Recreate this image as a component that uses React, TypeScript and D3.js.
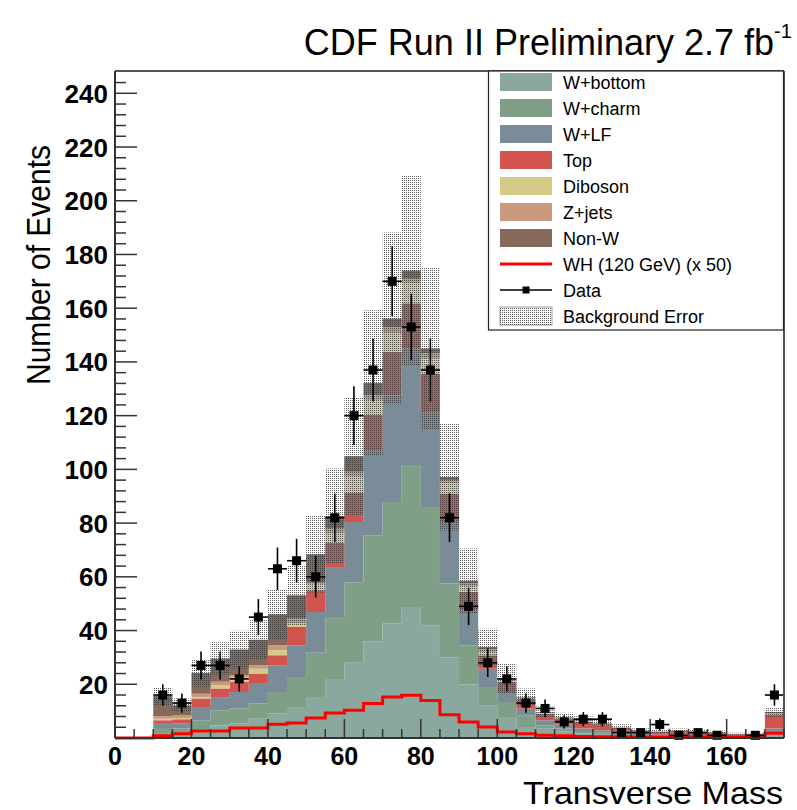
import React from 'react';
import * as d3 from 'd3';

// bin low edges (bin width 5)
const binLow = [10, 15, 20, 25, 30, 35, 40, 45, 50, 55, 60, 65, 70, 75, 80, 85, 90, 95, 100, 105, 110, 115, 120, 125, 130, 135, 140, 145, 150, 155, 160, 165, 170];
const binWidth = 5;

const wBottom = [1.9, 1.9, 2.9, 4.7, 5.4, 7.2, 9.1, 11.5, 15.3, 22.0, 28.0, 36.0, 42.6, 48.8, 42.0, 30.0, 20.0, 12.0, 7.8, 4.1, 3.4, 2.5, 1.8, 1.2, 0.9, 0.6, 0.5, 0.5, 0.4, 0.4, 0.3, 0.3, 1.3];
const wCharm = [1.8, 1.6, 3.7, 5.6, 5.6, 5.6, 8.0, 11.2, 16.4, 23.0, 30.0, 39.5, 45.3, 52.8, 44.0, 27.5, 14.5, 7.0, 5.6, 4.4, 1.3, 1.0, 0.8, 0.8, 0.6, 0.4, 0.3, 0.3, 0.3, 0.2, 0.2, 0.2, 0.9];
const wLF = [1.9, 2.0, 4.9, 4.7, 6.1, 7.7, 10.0, 11.8, 15.2, 18.7, 22.4, 31.6, 39.7, 43.4, 35.3, 22.9, 13.1, 6.8, 3.7, 2.4, 1.9, 1.5, 0.9, 0.9, 0.7, 0.5, 0.4, 0.5, 0.4, 0.3, 0.2, 0.2, 1.3];
const top = [1.0, 1.5, 3.2, 3.4, 3.8, 3.5, 3.7, 6.8, 8.1, 8.9, 10.8, 13.1, 16.2, 16.8, 14.4, 10.6, 6.8, 5.0, 3.9, 3.6, 2.4, 2.2, 2.5, 2.2, 1.5, 1.1, 1.0, 1.3, 1.1, 1.0, 0.7, 0.7, 5.1];
const diboson = [0.6, 0.4, 0.6, 1.2, 1.8, 1.8, 1.9, 1.3, 2.2, 3.5, 6.1, 5.6, 6.8, 7.4, 5.6, 3.7, 2.1, 1.2, 0.5, 0.3, 0.3, 0.2, 0.2, 0.2, 0.2, 0.1, 0.1, 0.1, 0.1, 0.1, 0.05, 0.05, 0.3];
const zjets = [0.9, 1.0, 1.2, 1.3, 0.6, 1.3, 1.8, 1.9, 0.9, 1.9, 1.8, 1.8, 2.4, 1.8, 1.9, 1.3, 1.0, 1.0, 0.3, 0.2, 0.2, 0.2, 0.2, 0.1, 0.1, 0.1, 0.1, 0.1, 0.1, 0.1, 0.05, 0.05, 0.3];
const nonW = [7.4, 3.8, 7.7, 8.7, 9.6, 9.5, 11.6, 8.6, 10.3, 4.6, 5.8, 4.6, 3.2, 3.0, 1.8, 1.2, 1.0, 0.9, 0.3, 0.3, 0.2, 0.2, 0.2, 0.2, 0.1, 0.1, 0.1, 0.1, 0.1, 0.1, 0.1, 0.1, 0.5];
const bkgErr = [3.5, 2.5, 5, 6, 7, 7.5, 9.2, 11.2, 14.2, 17.7, 22, 27, 32, 35.5, 30, 20, 12, 6.8, 5.6, 3.1, 2, 1.6, 1.5, 1.2, 1.0, 0.7, 0.6, 0.6, 0.6, 0.5, 0.4, 0.4, 1.8];
const dataCounts = [16, 13, 27, 27, 22, 45, 63, 66, 60, 82, 120, 137, 170, 153, 137, 82, 49, 28, 22, 13, 11, 6, 7, 7, 2, 2, 5, 1, 2, 1, 0, 1, 16];

// WH signal (x50) histogram, from 0
const whLow = [0, 5, 10, 15, 20, 25, 30, 35, 40, 45, 50, 55, 60, 65, 70, 75, 80, 85, 90, 95, 100, 105, 110, 115, 120, 125, 130, 135, 140, 145, 150, 155, 160, 165, 170];
const whValues = [0, 0, 0.8, 1.6, 2.6, 2.6, 3.7, 3.7, 5.1, 5.6, 7.4, 9.3, 10.3, 12.8, 15.3, 15.9, 14.0, 8.7, 6.0, 4.1, 2.2, 1.6, 1.0, 0.8, 0.6, 0.5, 0.5, 0.4, 0.4, 0.4, 0.4, 0.4, 0.4, 0.4, 1.8];

const xTicks = [0, 20, 40, 60, 80, 100, 120, 140, 160];
const yTicks = [20, 40, 60, 80, 100, 120, 140, 160, 180, 200, 220, 240];

const seriesNames = ['W+bottom', 'W+charm', 'W+LF', 'Top', 'Diboson', 'Z+jets', 'Non-W'];
const seriesValues = [wBottom, wCharm, wLF, top, diboson, zjets, nonW];
const seriesColors = ['#8ba89f', '#7f9f86', '#7a8c97', '#d3544f', '#d4cc86', '#c99a7b', '#87695b'];

const W = 797, H = 810;
const L = 115, R = 784, T = 71, B = 738;
const FONT = '"Liberation Sans", Arial, Helvetica, sans-serif';

export default function App() {
  const x = d3.scaleLinear().domain([0, 175]).range([L, R]);
  const y = d3.scaleLinear().domain([0, 248.3]).range([B, T]);

  const rows = binLow.map((lo, i) => {
    const r: any = { lo };
    seriesNames.forEach((n, k) => (r[n] = seriesValues[k][i]));
    return r;
  });
  const stacked = d3.stack<any>().keys(seriesNames)(rows);

  const area = d3
    .area<[number, number, number]>()
    .x((d) => x(d[0]))
    .y0((d) => y(d[1]))
    .y1((d) => y(d[2]))
    .curve(d3.curveStepAfter);

  const layerPoints = (layer: any): [number, number, number][] => {
    const pts: [number, number, number][] = layer.map((s: any, i: number) => [binLow[i], s[0], s[1]]);
    const last = pts[pts.length - 1];
    pts.push([last[0] + binWidth, last[1], last[2]]);
    return pts;
  };

  const totals = binLow.map((_, i) => seriesValues.reduce((a, s) => a + s[i], 0));
  const errPts: [number, number, number][] = binLow.map((lo, i) => [lo, Math.max(0, totals[i] - bkgErr[i]), totals[i] + bkgErr[i]]);
  errPts.push([binLow[binLow.length - 1] + binWidth, errPts[errPts.length - 1][1], errPts[errPts.length - 1][2]]);

  const whPts: [number, number][] = whLow.map((lo, i) => [lo, whValues[i]]);
  whPts.push([whLow[whLow.length - 1] + binWidth, whValues[whValues.length - 1]]);
  const whLine = d3
    .line<[number, number]>()
    .x((d) => x(d[0]))
    .y((d) => y(d[1]))
    .curve(d3.curveStepAfter);

  const yMinor = d3.range(0, 248, 4);
  const xMinor = d3.range(0, 176, 5);

  const legendRows = [
    ...seriesNames.map((n, k) => ({ name: n, kind: 'fill', color: seriesColors[k] })),
    { name: 'WH (120 GeV) (x 50)', kind: 'line', color: '#ff0000' },
    { name: 'Data', kind: 'data', color: '#000' },
    { name: 'Background Error', kind: 'err', color: '' },
  ];

  return (
    <svg width={W} height={H} style={{ position: 'absolute', left: 0, top: 0, background: '#fff' }} fontFamily={FONT}>
      <defs>
        <pattern id="dots" width="2" height="2" patternUnits="userSpaceOnUse">
          <rect x="0" y="0" width="1" height="1" fill="#333" opacity="0.8" />
        </pattern>
      </defs>
      <rect x={0} y={0} width={W} height={H} fill="#fff" />

      {/* stacked backgrounds */}
      {stacked.map((layer, k) => (
        <path key={k} d={area(layerPoints(layer)) || ''} fill={seriesColors[k]} stroke="none" />
      ))}

      {/* background error band */}
      <path d={area(errPts) || ''} fill="url(#dots)" stroke="none" />

      {/* WH signal */}
      <path d={whLine(whPts) || ''} fill="none" stroke="#ff0000" strokeWidth={3} />

      {/* data */}
      {binLow.map((lo, i) => {
        const n = dataCounts[i];
        if (n <= 0) return null;
        const cx = x(lo + binWidth / 2);
        const cy = y(n);
        const e = Math.sqrt(n);
        return (
          <g key={i}>
            <line x1={x(lo)} x2={x(lo + binWidth)} y1={cy} y2={cy} stroke="#000" strokeWidth={1.6} />
            <line x1={cx} x2={cx} y1={y(n + e)} y2={y(Math.max(0, n - e))} stroke="#000" strokeWidth={1.6} />
            <rect x={cx - 4.5} y={cy - 4.5} width={9} height={9} fill="#000" />
          </g>
        );
      })}

      {/* frame */}
      <line x1={L} x2={R} y1={T} y2={T} stroke="#555" strokeWidth={2} />
      <line x1={R} x2={R} y1={T} y2={B} stroke="#555" strokeWidth={2} />
      <line x1={L} x2={L} y1={T} y2={B} stroke="#333" strokeWidth={2} />
      <line x1={L} x2={R} y1={B} y2={B} stroke="#333" strokeWidth={2} />

      {/* y ticks */}
      {yMinor.map((v) => {
        const major = v % 20 === 0;
        return <line key={'ym' + v} x1={L} x2={L + (major ? 22 : 11)} y1={y(v)} y2={y(v)} stroke="#333" strokeWidth={1.5} />;
      })}
      {yTicks.map((v) => (
        <text key={'yl' + v} x={L - 7} y={y(v) + 9.5} textAnchor="end" fontSize={26} fontWeight="bold" fill="#000">
          {v}
        </text>
      ))}

      {/* x ticks */}
      {xMinor.map((v) => {
        const major = v % 20 === 0;
        return <line key={'xm' + v} x1={x(v)} x2={x(v)} y1={B} y2={B - (major ? 19 : 9)} stroke="#333" strokeWidth={1.5} />;
      })}
      {xTicks.map((v) => (
        <text key={'xl' + v} x={x(v)} y={765} textAnchor="middle" fontSize={25} fontWeight="bold" fill="#000">
          {v}
        </text>
      ))}

      {/* axis titles */}
      <text x={783} y={804} textAnchor="end" fontSize={32} fill="#000" textLength={260} lengthAdjust="spacingAndGlyphs">
        Transverse Mass
      </text>
      <text transform="translate(50,265) rotate(-90)" textAnchor="middle" fontSize={34} fill="#000" textLength={240} lengthAdjust="spacingAndGlyphs">
        Number of Events
      </text>

      {/* title */}
      <text x={774} y={55} textAnchor="end" fontSize={36} fill="#000">
        CDF Run II Preliminary 2.7 fb
      </text>
      <text x={774} y={38} textAnchor="start" fontSize={20} fill="#000">
        -1
      </text>

      {/* legend */}
      <rect x={488.5} y={71} width={295} height={259} fill="#fff" stroke="#222" strokeWidth={1.2} />
      {legendRows.map((r, i) => {
        const cy = 82 + i * 26;
        return (
          <g key={r.name}>
            {r.kind === 'fill' && <rect x={500} y={cy - 9} width={52} height={18} fill={r.color} />}
            {r.kind === 'line' && <line x1={500} x2={552} y1={cy} y2={cy} stroke={r.color} strokeWidth={3} />}
            {r.kind === 'data' && (
              <g>
                <line x1={500} x2={552} y1={cy} y2={cy} stroke="#000" strokeWidth={1.5} />
                <rect x={522.5} y={cy - 3.5} width={7} height={7} fill="#000" />
              </g>
            )}
            {r.kind === 'err' && (
              <g>
                <rect x={500} y={cy - 9} width={52} height={18} fill="#fff" stroke="#9fb7a9" strokeWidth={1.2} />
                <rect x={500} y={cy - 9} width={52} height={18} fill="url(#dots)" />
              </g>
            )}
            <text x={563} y={cy + 6.5} fontSize={18} fill="#000">
              {r.name}
            </text>
          </g>
        );
      })}
    </svg>
  );
}
